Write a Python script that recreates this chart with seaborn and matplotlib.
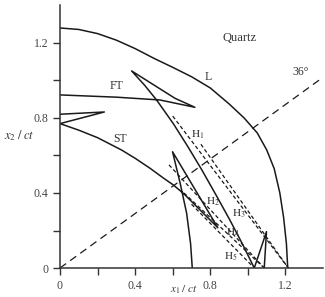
import numpy as np
import pandas as pd
import matplotlib
matplotlib.use("Agg")
import matplotlib.pyplot as plt
import seaborn as sns

# ---- data ----
L_x = [0.0, 0.1, 0.2, 0.3, 0.4, 0.5, 0.6, 0.7, 0.8, 0.9, 0.98, 1.05, 1.10, 1.14, 1.17, 1.19, 1.205, 1.212]
L_y = [1.28, 1.272, 1.25, 1.215, 1.17, 1.118, 1.07, 1.02, 0.96, 0.875, 0.80, 0.72, 0.63, 0.53, 0.40, 0.27, 0.13, 0.0]

FT_x = [0.0, 0.30, 0.532, 0.718, 0.612, 0.381, 0.45, 0.514, 0.603, 0.68, 0.755, 0.83, 0.904, 0.97, 1.034, 1.099, 1.087]
FT_y = [0.923, 0.911, 0.896, 0.857, 0.905, 1.051, 0.975, 0.896, 0.77, 0.648, 0.523, 0.39, 0.256, 0.13, 0.0, 0.194, 0.0]

ST_x = [0.0, 0.236, 0.0, 0.1, 0.2, 0.328, 0.4, 0.479, 0.55, 0.603, 0.66, 0.72, 0.79, 0.84,
        0.599, 0.64, 0.674, 0.695, 0.704]
ST_y = [0.82, 0.832, 0.77, 0.735, 0.695, 0.629, 0.585, 0.532, 0.48, 0.443, 0.395, 0.335, 0.265, 0.215,
        0.62, 0.45, 0.292, 0.13, 0.0]

H_names = ["H1", "H2", "H3", "H4", "H5"]
H_x0 = [0.60, 0.58, 0.75, 0.66, 0.70]
H_y0 = [0.81, 0.55, 0.66, 0.40, 0.34]
H_x1 = [1.215, 1.087, 1.215, 1.087, 1.034]
H_y1 = [0.0, 0.0, 0.0, 0.0, 0.0]

angle_deg = 36
ray_x_end = 1.39

xticks = [0, 0.4, 0.8, 1.2]
xtick_labels = ["0", "0.4", "0.8", "1.2"]
yticks = [0, 0.4, 0.8, 1.2]
ytick_labels = ["0", "0.4", "0.8", "1.2"]

# ---- figure ----
sns.set_style("white")
plt.rcParams["font.family"] = ["Liberation Serif", "DejaVu Serif"]
plt.rcParams["mathtext.fontset"] = "stix"

fig = plt.figure(figsize=(3.25, 2.97), dpi=100)
ax = fig.add_axes([0.1846, 0.0976, 0.8094, 0.884])

ink = "#1a1a1a"
lw = 1.1

for xs, ys in [(L_x, L_y), (FT_x, FT_y), (ST_x, ST_y)]:
    df = pd.DataFrame({"x": xs, "y": ys})
    sns.lineplot(data=df, x="x", y="y", sort=False, estimator=None,
                 color=ink, lw=lw, ax=ax)

for x0, y0, x1, y1 in zip(H_x0, H_y0, H_x1, H_y1):
    df = pd.DataFrame({"x": [x0, x1], "y": [y0, y1]})
    sns.lineplot(data=df, x="x", y="y", sort=False, estimator=None,
                 color=ink, lw=0.9, ax=ax)
    ax.lines[-1].set_dashes([3, 2])

ray = pd.DataFrame({"x": [0, ray_x_end],
                    "y": [0, ray_x_end * np.tan(np.radians(angle_deg))]})
sns.lineplot(data=ray, x="x", y="y", sort=False, estimator=None,
             color=ink, lw=0.9, ax=ax)
ax.lines[-1].set_dashes([6, 4])

ax.set_xlim(0, 1.4)
ax.set_ylim(0, 1.4)
ax.set_xticks(xticks)
ax.set_xticklabels(xtick_labels)
ax.set_yticks(yticks)
ax.set_yticklabels(ytick_labels)
ax.set_xticks([0.2, 0.6, 1.0], minor=True)
ax.set_yticks([0.2, 0.6, 1.0], minor=True)
ax.tick_params(which="both", direction="out", length=5, width=1, color="#333333",
               labelsize=8.5, labelcolor="#444444", bottom=True, left=True)
ax.set_xlabel("")
ax.set_ylabel("")
for s in ["top", "right"]:
    ax.spines[s].set_visible(False)
for s in ["left", "bottom"]:
    ax.spines[s].set_color("#333333")
    ax.spines[s].set_linewidth(1.1)

tc = "#333333"
ax.text(0.957, 1.228, "Quartz", fontsize=9, color=tc, ha="center", va="center")
ax.text(0.79, 1.02, "L", fontsize=8.5, color=tc, ha="center", va="center")
ax.text(0.298, 0.972, "FT", fontsize=8.5, color=tc, ha="center", va="center")
ax.text(0.32, 0.69, "ST", fontsize=8.5, color=tc, ha="center", va="center")
ax.text(1.28, 1.045, "36°", fontsize=8.5, color=tc, ha="center", va="center")
label_pos = {"H1": (0.73, 0.71), "H2": (0.815, 0.355), "H3": (0.95, 0.29),
             "H4": (0.92, 0.19), "H5": (0.91, 0.058)}
for n in H_names:
    px, py = label_pos[n]
    ax.text(px, py, "$\\mathrm{H}_{%s}$" % n[1], fontsize=8, color=tc,
            ha="center", va="center")

fig.text(0.06, 0.542, "$x_2\\;/\\;ct$", fontsize=9, color=tc, ha="center", va="center")
fig.text(0.565, 0.002, "$x_1\\;/\\;ct$", fontsize=8, color=tc, ha="center", va="bottom")

fig.savefig("out.png", dpi=100)
